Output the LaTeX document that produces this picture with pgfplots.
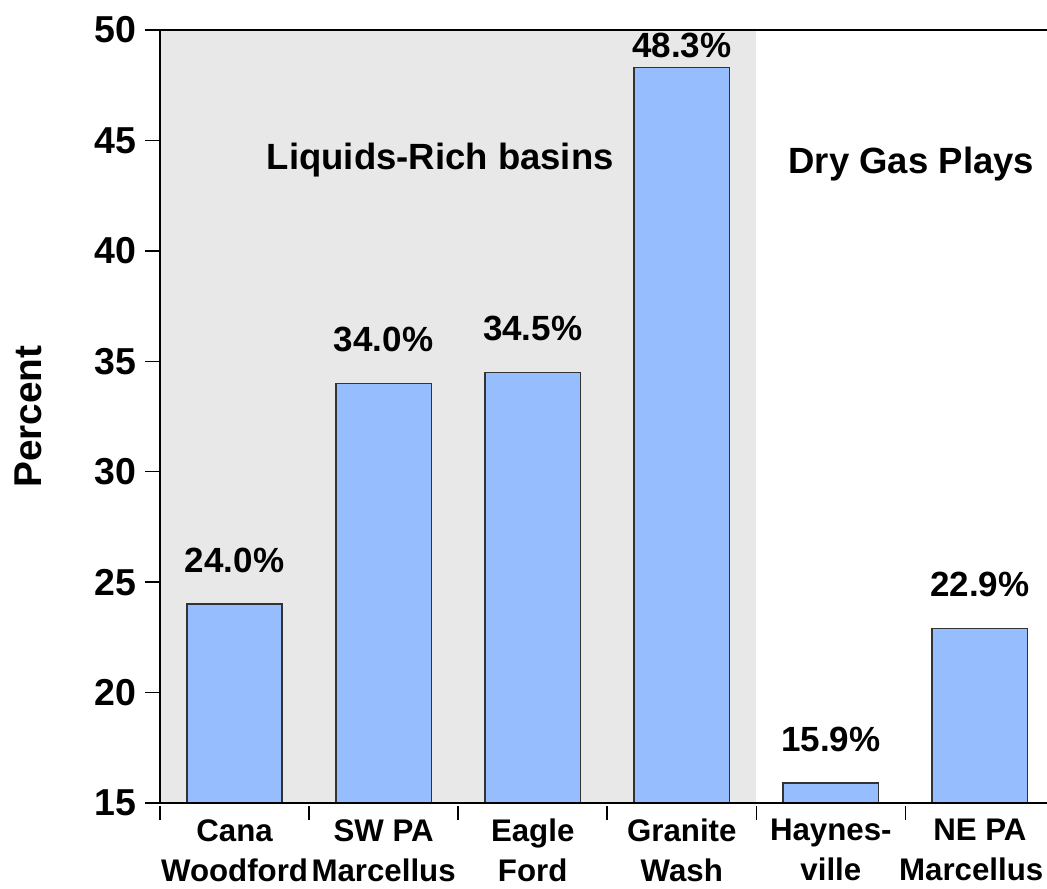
\documentclass[border=0pt]{standalone}
\usepackage{pgfplots}
\pgfplotsset{compat=1.18}
\usepackage{fontspec}
\setmainfont{Liberation Sans}

\definecolor{barblue}{RGB}{150,190,255}
\definecolor{bandgray}{RGB}{232,232,232}

\begin{document}
\begin{tikzpicture}
\begin{axis}[
    name=ax,
    scale only axis,
    width=354.8pt, height=309.2pt,
    xmin=-0.5, xmax=5.45,
    ymin=15, ymax=50,
    axis lines*=left,
    axis on top,
    axis line style={line width=0.9pt},
    tick align=outside,
    ytick={15,20,...,50},
    major tick length=6pt,
    tick style={black, line width=0.6pt},
    xtick={0,...,5},
    xticklabels={{Cana\\Woodford},{SW PA\\Marcellus},{Eagle\\Ford},{Granite\\Wash},{Haynes-\\ville},{NE PA\\Marcellus\hspace*{7pt}}},
    x tick style={draw=none},
    minor xtick={-0.5,0.5,1.5,2.5,3.5,4.5},
    minor x tick style={draw=black, line width=0.6pt, yshift=-1.2pt},
    minor tick length=5.6pt,
    xticklabel style={font=\bfseries\fontsize{12.5}{16}\selectfont, align=center, yshift=3pt},
    yticklabel style={font=\bfseries\fontsize{15}{17}\selectfont},
    /pgf/number format/assume math mode=true,
    ylabel={Percent},
    ylabel style={font=\bfseries\fontsize{15.5}{17}\selectfont, at={(rel axis cs:0,0.5)}, anchor=center, yshift=52.8pt},
    clip=false,
]
% shaded band behind the liquids-rich plays
\fill[bandgray] (axis cs:-0.5,15) rectangle (axis cs:3.5,50);

\addplot[ybar, bar width=0.64, fill=barblue, draw=black!80, line width=0.6pt]
    coordinates {(0,24.0) (1,34.0) (2,34.5) (3,48.3) (4,15.9) (5,22.9)};

\draw[line width=0.9pt] (rel axis cs:0,1) -- (rel axis cs:1,1);

\begin{scope}[every node/.style={font=\bfseries\fontsize{14}{16}\selectfont, anchor=base}]
\node at (axis cs:0,24.0) [yshift=12.8pt] {24.0\%};
\node at (axis cs:1,34.0) [yshift=12.8pt] {34.0\%};
\node at (axis cs:2,34.5) [yshift=12.8pt] {34.5\%};
\node at (axis cs:3,48.3) [yshift=4pt] {48.3\%};
\node at (axis cs:4,15.9) [yshift=12.8pt] {15.9\%};
\node at (axis cs:5,22.9) [yshift=12.8pt] {22.9\%};
\end{scope}

\node[font=\bfseries\fontsize{14.6}{16}\selectfont] at (axis cs:1.38,44.1) {Liquids-Rich basins};
\node[font=\bfseries\fontsize{14.6}{16}\selectfont] at (axis cs:4.54,43.95) {Dry Gas Plays};
\end{axis}
\pgfresetboundingbox
\path ([shift={(-64pt,-34pt)}]ax.south west) rectangle ([shift={(0pt,12pt)}]ax.north east);
\end{tikzpicture}
\end{document}
